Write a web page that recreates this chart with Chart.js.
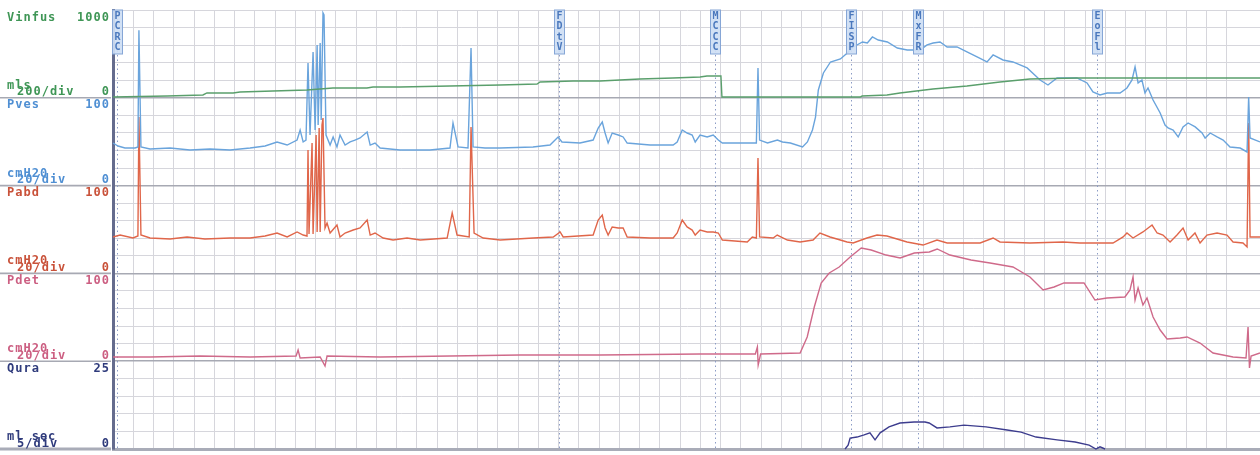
<!DOCTYPE html>
<html>
<head>
<meta charset="utf-8">
<script src="https://cdn.jsdelivr.net/npm/chart.js@4.4.1/dist/chart.umd.min.js"></script>
<style>
  body { margin: 0; background: #fff; }
  canvas { display: block; }
</style>
</head>
<body>
<canvas id="trace" width="1260" height="455"></canvas>
<script>
// time in seconds, one grid division = 10 s
const vinfusTime = [0,26.7,44.4,46.4,59.3,62.7,79,95.8,108.6,125.4,128.4,141.7,191.1,209.4,210.9,227.2,240.5,260.2,276.5,289.9,293.3,300.2,300.7,368.9,369.9,382.2,388.6,404.9,421.7,438,452.8,476,566.4];
const vinfusValues = [9,20,32,55,55,66,77,89,112,112,123,123,146,157,180,191,191,214,226,237,248,248,9,9,20,32,55,100,134,180,214,226,226];

const pvesTime = [0,2.5,5.9,10.9,12.3,12.8,13.8,18.3,28.2,38,47.9,57.8,67.7,75.1,81,86,90.9,92.4,93.9,95.3,96.3,97.3,98.8,99.8,100.8,101.3,102.3,102.8,103.7,104.2,105.2,107.2,108.7,110.6,112.1,114.6,117.1,119.5,122,125.5,127,129.4,131.9,141.7,156.5,166.4,167.9,170.4,175.3,176.8,177.8,183.7,191.1,207.4,215.8,219.8,221.7,230.6,237.1,239.6,241.6,243,244.5,246.5,249.5,251.9,253.9,265.2,276.6,278.6,281.1,283.5,286,287.5,289.9,293.4,296.4,298.9,300.9,314.7,317.7,318.5,319.3,323.2,328.1,330.6,334.5,340.5,342.9,345.4,346.9,348.3,350.8,354.3,359.2,362.6,365.6,370.1,372.5,375,377.9,382.4,387.3,392.2,398.6,402,405,408.4,411.9,416.8,421.7,426.7,431.6,434.6,439.5,444.4,451.4,457.8,461.7,466.2,476,481,483.9,487.4,490.9,497.3,500.7,503.2,504.7,506.2,508.1,509.6,511.1,513.6,517.1,519.5,521,523.5,526,528.4,530.9,534.4,537.8,539.3,541.8,545.2,548.2,551.6,556.6,560,560.8,561.5,566.4];
const pvesValues = [48.5,45.1,42.8,42.8,44,177,44,41.7,42.8,40.5,41.7,40.5,42.8,45.1,49.7,46.2,51.9,63.3,49.7,51.9,139.6,57.6,152.2,63.3,160.2,69,162.4,74.7,196.6,194.3,57.6,46.2,55.4,44,57.6,46.2,49.7,51.9,54.2,61,46.2,48.5,42.8,40.5,40.5,42.8,71.3,44,42.8,156.7,44,42.8,42.8,44,46.2,55.4,49.7,48.5,51.9,65.6,72.4,59.9,48.5,59.9,57.6,55.4,48.5,46.2,46.2,49.7,63.3,59.9,57.6,49.7,57.6,55.4,57.6,51.9,48.5,48.5,48.5,134,51.9,48.5,51.9,49.7,48.5,44,49.7,63.3,78,108.9,128.3,140.8,144.2,151,157.9,163.6,162.4,169.3,165.8,163.6,156.7,154.5,154.5,160.2,162.4,163.6,157.9,157.9,152.2,146.5,140.8,148.8,143.1,140.8,134,120.3,114.6,122.6,122.6,116.9,106.6,103.2,105.5,105.5,111.2,120.3,135.1,116.9,120.3,105.5,111.2,97.5,82.7,69,65.6,63.3,55.4,66.8,71.3,66.8,59.9,54.2,59.9,55.4,51.9,44,42.8,38.3,100.9,54.2,49.7];

const pabdTime = [0,3.5,9.9,12.3,12.8,13.8,18.3,28.2,36.6,45.4,57.8,67.7,75.1,81,86,90.9,93.9,95.8,96.3,96.8,98.3,98.8,100.3,100.8,101.8,102.3,103.2,103.7,104.7,105.7,107.2,110.6,112.1,114.6,118.6,122,125.5,127,129.4,133.4,138.3,145.2,151.7,165,167.5,169.9,175.9,176.8,178.3,182.8,191.2,207.5,217.4,220.8,222.3,237.1,239.6,241.6,243,244.5,246.5,249.5,251.9,253.9,265.3,276.6,278.6,281.1,283.5,286,287.5,289.9,293.4,296.4,298.9,300.9,313.2,315.7,317.7,318.5,319.3,326,328,333,339.3,345.7,349.1,354.1,362.5,365.5,372.3,377.3,382.2,392.1,400,406.9,411.9,428.2,434.6,438,452.8,469.1,477.5,493.8,498.8,500.7,503.7,508.6,513.1,515.6,518.5,522,525.4,528.4,530.9,534.3,536.8,540.2,545.2,550.1,553.1,558,560,560.8,561.5,566.4];
const pabdValues = [41.5,43.7,40.3,42.6,178.1,43.7,40.3,39.2,41.5,39.2,40.3,40.3,42.6,46,41.5,47.2,43.7,42.6,140.6,44.9,148.5,44.9,157.6,47.2,165.6,47.2,169,177,51.7,57.4,46,55.1,41.5,46,49.4,51.7,60.8,43.7,46,40.3,38,40.3,38,40.3,68.8,43.7,41.5,166.7,46,40.3,38,40.3,41.5,47.2,41.5,43.7,60.8,66.5,51.7,43.7,52.9,51.7,51.7,41.5,40.3,40.3,46,60.8,52.9,49.4,43.7,49.4,47.2,47.2,46,38,35.8,41.5,40.3,131.4,41.5,40.3,43.7,38,35.8,38,46,41.5,35.8,34.6,40.3,43.7,42.6,35.8,32.3,38,34.6,34.6,40.3,35.8,34.6,35.8,34.6,34.6,41.5,46,40.3,47.2,55.1,46,43.7,35.8,43.7,51.7,38,46,34.6,43.7,46,43.7,35.8,34.6,30.1,171.2,41.5,41.5];

const pdetTime = [0,18.3,43,67.7,90.4,91.4,92.4,102.3,104.7,105.7,131.9,166.4,201,240.5,289.9,317.2,318.2,318.6,319.8,339.3,342.8,346.3,349.7,353.7,358.6,364,369.5,374.4,381.8,388.7,395.7,403.1,407,413.3,423.7,433.1,444.4,452.8,459.3,464.7,469.6,479.5,484.9,490.8,499.7,502.2,503.7,504.7,506.2,508.6,510.6,513.6,517.1,520.5,527,530.4,536.8,543.2,553.1,559.5,560.5,561.2,562,566.4];
const pdetValues = [4.8,4.8,5.9,4.8,5.9,12.8,3.6,4.8,-5.5,5.9,4.8,5.9,7.1,7.1,8.2,8.2,16.2,-4.3,8.2,9.3,27.6,61.7,89.1,100.5,107.3,118.7,128.9,126.6,120.9,117.5,123.2,124.4,127.8,120.9,115.3,111.8,107.3,95.9,81.1,84.5,89.1,89.1,69.7,72,73.1,81.1,95.9,69.7,83.4,64,72,50.3,35.5,25.3,26.4,27.6,20.7,9.3,4.8,3.6,38.9,-7.7,5.9,9.3];

// flow is zero (hidden under the bottom border) outside the void
const quraTime = [361.5,363,364,367.4,370.9,373.8,376.3,378.8,383.2,388.6,395.6,401,403,406.9,413.3,420.2,431.1,441.5,448.4,455.8,466.2,475.1,482,485.4,487.4,489.9];
const quraValues = [0,1.1,3.1,3.4,4,4.6,2.6,4.6,6.3,7.4,7.7,7.7,7.4,6,6.3,6.8,6.3,5.4,4.8,3.4,2.6,2,1.1,0,0.6,0];

// event marks
const markerTimes = [2, 220.3, 297.3, 364.5, 397.6, 486];
const markerLabels = ['PCRC', 'FDtV', 'MCCC', 'FISP', 'MxFR', 'EoFl'];

// channel labels on the left
const channels = [
  { axis: 'vinfus', name: 'Vinfus', top: '1000', unit: 'mls', div: '200/div', max: 1000, step: 200, color: '#3f9656', line: '#5a9f6c' },
  { axis: 'pves', name: 'Pves', top: '100', unit: 'cmH20', div: '20/div', max: 100, step: 20, color: '#4f8fd3', line: '#6aa4dc' },
  { axis: 'pabd', name: 'Pabd', top: '100', unit: 'cmH20', div: '20/div', max: 100, step: 20, color: '#c9523a', line: '#e0664a' },
  { axis: 'pdet', name: 'Pdet', top: '100', unit: 'cmH20', div: '20/div', max: 100, step: 20, color: '#cc5f82', line: '#cf6a8a' },
  { axis: 'qura', name: 'Qura', top: '25', unit: 'ml sec', div: '5/div', max: 25, step: 5, color: '#2f3b7c', line: '#3d3d8e' }
];
const seriesTime = [vinfusTime, pvesTime, pabdTime, pdetTime, quraTime];
const seriesValues = [vinfusValues, pvesValues, pabdValues, pdetValues, quraValues];

function toPoints(t, v) {
  return t.map((x, i) => ({ x: x, y: v[i] }));
}

const datasets = channels.map((c, i) => ({
  label: c.name,
  data: toPoints(seriesTime[i], seriesValues[i]),
  yAxisID: c.axis,
  borderColor: c.line,
  borderWidth: 1.4,
  pointRadius: 0,
  tension: 0,
  clip: false
}));

const scales = {
  x: {
    type: 'linear',
    min: 0,
    max: 566.4,
    ticks: { display: false, stepSize: 10 },
    grid: { color: '#d6d6dc', lineWidth: 1, drawTicks: false },
    border: { display: true, color: '#a9acb8', width: 3 }
  }
};
channels.forEach((c, i) => {
  scales[c.axis] = {
    type: 'linear',
    position: 'left',
    stack: 'channels',
    stackWeight: 1,
    weight: 10 - i,
    min: 0,
    max: c.max,
    ticks: { display: false, stepSize: c.step },
    grid: {
      drawTicks: false,
      color: ctx => ctx.tick.value === 0 ? '#a7a9b3' : (ctx.tick.value === c.max && i > 0 ? 'rgba(0,0,0,0)' : '#d6d6dc'),
      lineWidth: ctx => ctx.tick.value === 0 ? 1.6 : 1
    },
    border: { display: true, color: '#656c8e', width: 3 }
  };
});

const markerPlugin = {
  id: 'markers',
  beforeDatasetsDraw(chart) {
    const { ctx, chartArea, scales } = chart;
    ctx.save();
    ctx.strokeStyle = '#8c9cc6';
    ctx.lineWidth = 1;
    ctx.setLineDash([1.5, 3]);
    markerTimes.forEach(t => {
      const x = Math.round(scales.x.getPixelForValue(t)) + 0.5;
      ctx.beginPath();
      ctx.moveTo(x, chartArea.top);
      ctx.lineTo(x, chartArea.bottom);
      ctx.stroke();
    });
    ctx.restore();
  },
  afterDatasetsDraw(chart) {
    const { ctx, chartArea, scales } = chart;
    ctx.save();
    ctx.font = 'bold 10px "DejaVu Sans Mono"';
    ctx.textAlign = 'center';
    ctx.textBaseline = 'middle';
    markerTimes.forEach((t, i) => {
      const x = Math.round(scales.x.getPixelForValue(t)) + 0.5;
      const top = chartArea.top;
      ctx.fillStyle = 'rgba(206,222,244,0.92)';
      ctx.strokeStyle = '#86a6d6';
      ctx.lineWidth = 1;
      ctx.fillRect(x - 5, top, 10, 44);
      ctx.strokeRect(x - 5, top, 10, 44);
      ctx.fillStyle = '#4a78bd';
      markerLabels[i].split('').forEach((ch, k) => {
        ctx.fillText(ch, x, top + 6 + k * 10.5);
      });
    });
    ctx.restore();
  }
};

const labelPlugin = {
  id: 'channelLabels',
  afterDraw(chart) {
    const { ctx, chartArea } = chart;
    ctx.save();
    // boundary lines through the label panel
    channels.forEach((c, i) => {
      const s = chart.scales[c.axis];
      ctx.strokeStyle = i === channels.length - 1 ? '#a9acb8' : '#a7a9b3';
      ctx.lineWidth = i === channels.length - 1 ? 3 : 1.6;
      ctx.beginPath();
      ctx.moveTo(0, s.bottom);
      ctx.lineTo(chartArea.left - 2, s.bottom);
      ctx.stroke();
    });
    ctx.font = 'bold 12px "DejaVu Sans Mono"';
    ctx.letterSpacing = '1px';
    ctx.textBaseline = 'alphabetic';
    const right = 109;
    const rightText = (s, y) => {
      const w = ctx.measureText(s).width;
      ctx.fillText(s, right - w + 1, y);
    };
    channels.forEach(c => {
      const s = chart.scales[c.axis];
      ctx.fillStyle = c.color;
      ctx.fillText(c.name, 7, s.top + 10.5);
      rightText(c.top, s.top + 10.5);
      ctx.fillText(c.unit, 7, s.bottom - 9);
      ctx.fillText(c.div, 17, s.bottom - 2.5);
      rightText('0', s.bottom - 2.5);
    });
    ctx.restore();
  }
};

new Chart(document.getElementById('trace'), {
  type: 'line',
  data: { datasets: datasets },
  options: {
    responsive: false,
    animation: false,
    layout: { padding: { left: 113, top: 10, right: 0, bottom: 6 } },
    plugins: { legend: { display: false }, tooltip: { enabled: false } },
    scales: scales
  },
  plugins: [markerPlugin, labelPlugin]
});
</script>
</body>
</html>
